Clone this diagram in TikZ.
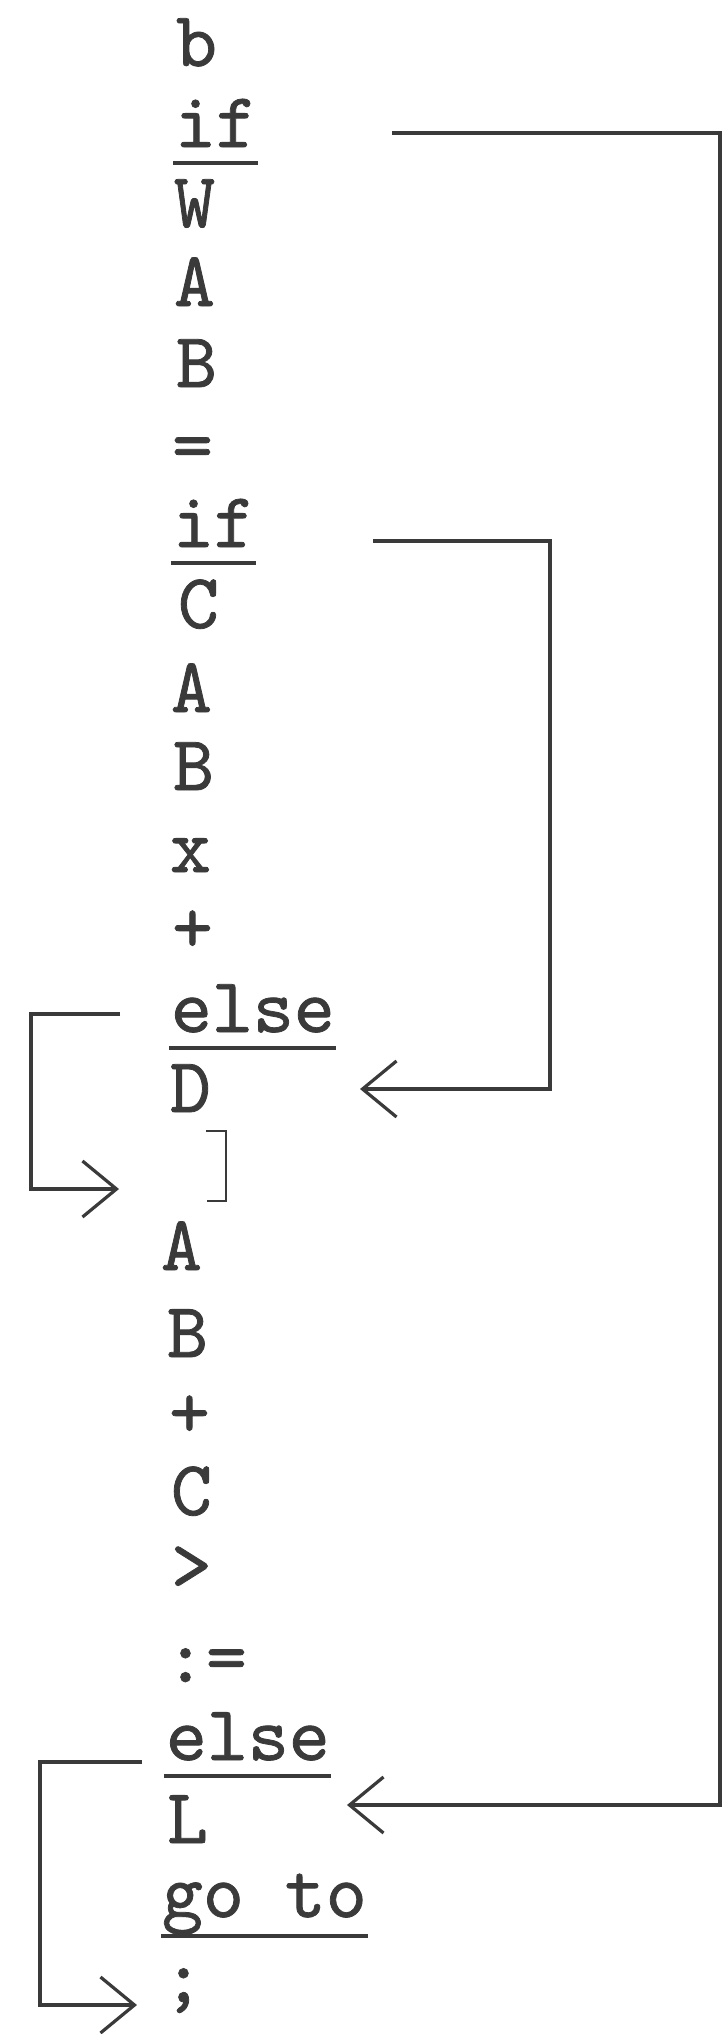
\documentclass[tikz,border=0pt]{standalone}
\usepackage{fontspec}
\setmonofont{lmmono10-regular.otf}[FakeBold=1.0]
\usetikzlibrary{arrows.meta}
\definecolor{ink}{HTML}{3A3A3A}
\begin{document}
\begin{tikzpicture}[x=1pt,y=-1pt,
  tok/.style={inner sep=0pt, outer sep=0pt, anchor=base west, text=ink,
    font=\ttfamily\fontsize{78}{90}\selectfont},
  conn/.style={draw=ink, line width=3.2pt},
  arr/.style={conn, -{Straight Barb[length=34pt,width=56pt,line width=3.2pt]}},
  uline/.style={draw=ink, line width=4.5pt}]
\useasboundingbox[fill=white] (0,0) rectangle (727,2034);
% tokens
\node[tok] (b) at (176,66) {b};
\node[tok] (if1) at (175,147) {if};
\node[tok] (W) at (174,227) {W};
\node[tok] (A1) at (174,306) {A};
\node[tok] (B1) at (176,387) {B};
\node[tok] (eq) at (172,470) {=};
\node[tok] (if2) at (173,547) {if};
\node[tok] (C1) at (178,628) {C};
\node[tok] (A2) at (171,712) {A};
\node[tok] (B2) at (173,790) {B};
\node[tok] (x) at (170,872) {x};
\node[tok] (p1) at (172,952) {+};
\node[tok] (else1) at (171,1032) {else};
\node[tok] (D) at (170,1112) {D};
\node[tok] (A3) at (161,1270) {A};
\node[tok] (B3) at (167,1357) {B};
\node[tok] (p2) at (169,1437) {+};
\node[tok] (C2) at (171,1515) {C};
\node[tok] (gt) at (171,1590) {>};
\node[tok] (asg) at (165,1682) {:=};
\node[tok] (else2) at (166,1760) {else};
\node[tok] (L) at (167,1843) {L};
\node[tok] (goto) at (162,1917) {go to};
\node[tok] (semi) at (163,2002) {;};
% underlines
\foreach \n in {if1,if2,else1,else2}
  \draw[uline] ([xshift=-2pt,yshift=-16pt]\n.base west) -- ([xshift=1pt,yshift=-16pt]\n.base east);
\draw[uline] ([xshift=-1pt,yshift=-19pt]goto.base west) -- ([xshift=1pt,yshift=-19pt]goto.base east);
% outer connector
\coordinate (o1) at (392,133);
\coordinate (o2) at (720,133);
\coordinate (o3) at (720,1805);
\coordinate (oL) at (347,1805);
\draw[arr] (o1) -- (o2) -- (o3) -- (oL);
% inner connector
\coordinate (i1) at (373,541);
\coordinate (i2) at (550,541);
\coordinate (i3) at (550,1089);
\coordinate (iD) at (360,1089);
\draw[arr] (i1) -- (i2) -- (i3) -- (iD);
% left bracket
\coordinate (l1) at (120,1014);
\coordinate (l2) at (31,1014);
\coordinate (l3) at (31,1189);
\coordinate (l4) at (119,1189);
\draw[arr] (l1) -- (l2) -- (l3) -- (l4);
% bottom left
\coordinate (m1) at (142,1762);
\coordinate (m2) at (40,1762);
\coordinate (m3) at (40,2005);
\coordinate (m4) at (137,2005);
\draw[arr] (m1) -- (m2) -- (m3) -- (m4);
% small bracket
\coordinate (k1) at (206,1131);
\coordinate (k2) at (226,1131);
\coordinate (k3) at (226,1201);
\coordinate (k4) at (207,1201);
\draw[draw=ink, line width=2.2pt] (k1) -- (k2) -- (k3) -- (k4);
\end{tikzpicture}
\end{document}
